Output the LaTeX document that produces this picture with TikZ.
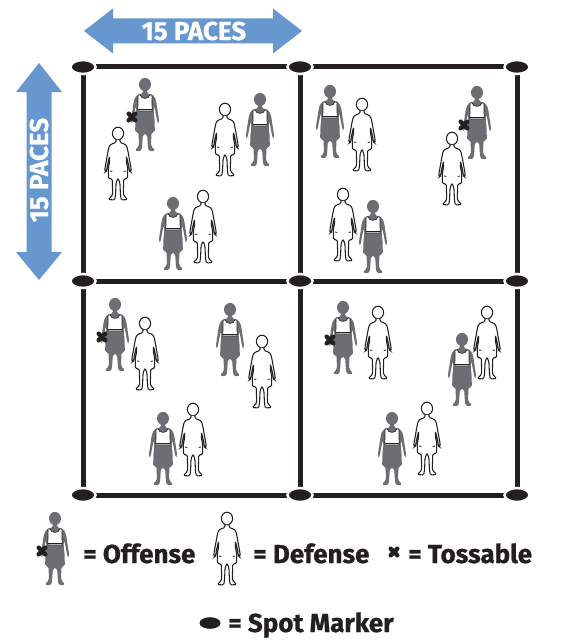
\documentclass[tikz,border=0pt]{standalone}
\usepackage{fontspec}
\setmainfont{Fira Sans}[BoldFeatures={FakeBold=0.8}]
\definecolor{ink}{HTML}{231F20}
\definecolor{figgray}{HTML}{6D6E71}
\definecolor{arrowblue}{HTML}{6797CF}
\tikzset{
  gridline/.style={ink, line width=3.75pt},
  spotmark/.style={fill=ink, draw=white, line width=1.9pt},
  legendtext/.style={font=\fontsize{19.5pt}{22pt}\selectfont\bfseries, text=ink, inner sep=0pt, anchor=base west},
  pacestext/.style={font=\fontsize{19.5pt}{22pt}\selectfont\bfseries, text=white, inner sep=0pt},
  tossball/.pic={
    \draw[ink, line width=3.2pt, line cap=round] (-3.4,-3.4) -- (3.4,3.4) (-3.4,3.4) -- (3.4,-3.4);
  },
  offense/.pic={
    \fill[figgray] (0,6.5) ellipse [x radius=6, y radius=6.6];
    \begin{scope}[xscale=0.86]
    \fill[figgray, rounded corners=1.2pt]
      (-2.5,11) -- (-2.5,15.5) -- (-8,16.5) -- (-11,18.5) -- (-13,23) -- (-14.5,32) -- (-16,40)
      -- (-16.5,44.5) -- (-14.5,45) -- (-13.5,40) -- (-12,33) -- (-10.5,28) -- (-10,34)
      -- (-11,40) -- (-11.5,54) -- (-7.5,54.5) -- (-7,68) -- (-12,72.5) -- (-5,73.5)
      -- (-3.5,70) -- (-2.5,57) -- (0,55.5) -- (2.5,57) -- (3.5,70) -- (5,73.5) -- (12,72.5)
      -- (7,68) -- (7.5,54.5) -- (11.5,54) -- (11,40) -- (10,34) -- (10.5,28) -- (12,33)
      -- (13.5,40) -- (14.5,45) -- (16.5,44.5) -- (16,40) -- (14.5,32) -- (13,23) -- (11,18.5)
      -- (8,16.5) -- (2.5,15.5) -- (2.5,11) -- cycle;
    \draw[ink, fill=white, line width=0.5pt]
      (-8,17) -- (-5.5,17) .. controls (-5,21.5) and (5,21.5) .. (5.5,17) -- (8,17)
      .. controls (8.5,22) and (7.5,26) .. (8.5,30) -- (8.5,33) -- (-8.5,33) -- (-8.5,30)
      .. controls (-7.5,26) and (-8.5,22) .. (-8,17) -- cycle;
    \draw[ink, line width=0.5pt] (-8.5,31) -- (8.5,31);
    \end{scope}
  },
  defense/.pic={
    \draw[ink, fill=white, line width=0.8pt] (0,6.5) ellipse [x radius=5.6, y radius=6.3];
    \begin{scope}[xscale=0.88]
    \draw[ink, fill=white, line width=0.8pt, rounded corners=1pt]
      (-2.3,12.8) -- (-2.3,15.5) -- (-7.5,17) -- (-10,19) -- (-11.5,25) -- (-13.5,35) -- (-15,42)
      -- (-14.5,45) -- (-13,44) -- (-12,38) -- (-9.5,29) -- (-9.5,35) -- (-11,41)
      -- (-11,51.5) -- (-6.5,52) -- (-6,68) -- (-11,72.5) -- (-3.8,73) -- (-2.8,68)
      -- (-2.2,56) -- (0,51) -- (2.2,56) -- (2.8,68) -- (3.8,73) -- (11,72.5) -- (6,68)
      -- (6.5,52) -- (11,51.5) -- (11,41) -- (9.5,35) -- (9.5,29) -- (12,38) -- (13,44)
      -- (14.5,45) -- (15,42) -- (13.5,35) -- (11.5,25) -- (10,19) -- (7.5,17) -- (2.3,15.5)
      -- (2.3,12.8);
    \draw[ink, line width=0.6pt] (-9,44) -- (-6.5,44.5) (9,44) -- (6.5,44.5);
    \end{scope}
  },
  ballholder/.pic={
    \pic {offense};
    \pic at (-13,39) {tossball};
  }
}
\begin{document}
\begin{tikzpicture}[x=0.75pt, y=-0.75pt]
\useasboundingbox (0,0) rectangle (560,642);
\fill[white] (0,0) rectangle (560,642);

% dimension arrows
\fill[arrowblue] (84,31) -- (113,8.5) -- (113,18.5) -- (273,18.5) -- (273,8.5) -- (302,31)
  -- (273,53.5) -- (273,43.5) -- (113,43.5) -- (113,53.5) -- cycle;
\node[pacestext] (hpaces) at (194,31) {15 PACES};
\fill[arrowblue] (39,63) -- (16,92) -- (26.5,92) -- (26.5,252) -- (16,252) -- (39,280)
  -- (62,252) -- (51.5,252) -- (51.5,92) -- (62,92) -- cycle;
\node[pacestext, rotate=90] (vpaces) at (39,170) {15 PACES};

% grid
\foreach \yy in {67,281,495} \draw[gridline] (83,\yy) -- (517,\yy);
\foreach \xx in {83,300,517} \draw[gridline] (\xx,67) -- (\xx,495);
\foreach \xx in {83,300,517} \foreach \yy in {67,281,495}
  \draw[spotmark] (\xx,\yy) ellipse [x radius=12.5, y radius=7];

% quadrant 1
\pic at (145,78) {ballholder};
\pic at (118,127) {defense};
\pic at (225,103) {defense};
\pic at (260,93) {offense};
\pic at (173,197) {offense};
\pic at (203,190) {defense};
% quadrant 2
\pic at (330,85) {offense};
\pic at (362,98) {defense};
\pic at (477,86) {ballholder};
\pic at (452,132) {defense};
\pic at (343,188) {defense};
\pic at (373,200) {offense};
% quadrant 3
\pic at (115,298) {ballholder};
\pic at (145,317) {defense};
\pic at (230,303) {offense};
\pic at (262,335) {defense};
\pic at (163,412) {offense};
\pic at (193,403) {defense};
% quadrant 4
\pic at (343,301) {ballholder};
\pic at (378,306) {defense};
\pic at (462,333) {offense};
\pic at (487,306) {defense};
\pic at (392,412) {offense};
\pic at (427,402) {defense};

% legend
\pic at (55,512) {ballholder};
\node[legendtext] (offtxt) at (83,563) {= Offense};
\pic at (227,512) {defense};
\node[legendtext] (deftxt) at (253,563) {= Defense};
\pic at (394,552) {tossball};
\node[legendtext] (tostxt) at (408,563) {= Tossable};
\fill[ink] (210,623) ellipse [x radius=10.5, y radius=5.8];
\node[legendtext] (spottxt) at (228,632) {= Spot Marker};
\end{tikzpicture}
\end{document}
